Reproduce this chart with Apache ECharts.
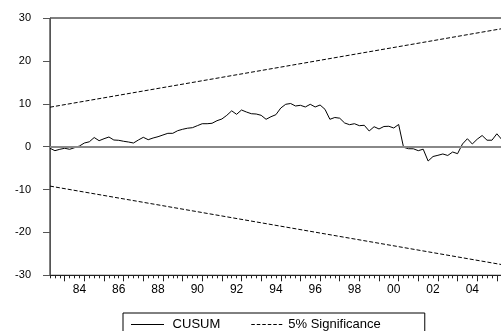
<!DOCTYPE html>
<html>
<head>
<meta charset="utf-8">
<script src="https://cdn.jsdelivr.net/npm/echarts@6/dist/echarts.min.js"></script>
<style>
  html, body { margin: 0; padding: 0; background: #fff; overflow: hidden; }
  #chart { width: 530px; height: 331px; }
</style>
</head>
<body>
<div id="chart"></div>
<script>
// quarterly observations, 1982Q3 onwards
const startYear = 1982;
const startQuarter = 3;
const quarterCount = 96;

const cusum = [
  -0.38, -0.94, -0.62, -0.38, -0.62, -0.24, 0.15, 0.85, 1.13, 2.13,
  1.39, 1.85, 2.25, 1.55, 1.48, 1.25, 1.08, 0.85, 1.55, 2.18,
  1.62, 2.02, 2.32, 2.72, 3.11, 3.11, 3.72, 4.05, 4.3, 4.42,
  4.89, 5.35, 5.35, 5.45, 6.05, 6.45, 7.3, 8.35, 7.54, 8.55,
  8.08, 7.68, 7.61, 7.31, 6.38, 6.98, 7.45, 9.01, 9.88, 10.06,
  9.48, 9.64, 9.25, 9.88, 9.25, 9.71, 8.71, 6.38, 6.8, 6.63,
  5.52, 5.12, 5.35, 4.89, 4.98, 3.65, 4.65, 4.12, 4.7, 4.75,
  4.35, 5.17, -0.15, -0.48, -0.5, -0.94, -0.59, -3.35, -2.3, -2.02,
  -1.71, -2.06, -1.25, -1.64, 0.62, 1.85, 0.62, 1.74, 2.6, 1.5,
  1.5, 3.0, 1.67
];

// 5% bounds: value at first and last observation
const upperBound = [9.2, 28.1];
const lowerBound = [-9.2, -28.1];

const yTicks = { min: -30, max: 30, step: 10 };

const quarters = [];
for (let i = 0; i < quarterCount; i++) {
  const q = startQuarter - 1 + i;
  quarters.push((startYear + Math.floor(q / 4)) + 'Q' + (q % 4 + 1));
}

const first = quarters[0];
const last = quarters[quarters.length - 1];

const chart = echarts.init(document.getElementById('chart'));
const font = 'Liberation Sans, Arial, Helvetica, sans-serif';

const plotBox = { left: 50, right: 13.5, top: 18, bottom: 55.7 };

const solidIcon = 'path://M0,0H33V1H0Z';
const dashIcon = 'path://M0,0H3.5V1H0ZM5.5,0H9V1H5.5ZM11,0H14.5V1H11ZM16.5,0H20V1H16.5ZM22,0H25.5V1H22ZM27.5,0H31V1H27.5Z';

chart.setOption({
  animation: false,
  backgroundColor: '#fff',
  grid: [
    Object.assign({ show: true, borderColor: '#000', borderWidth: 1, backgroundColor: 'transparent' }, plotBox),
    Object.assign({ show: false }, plotBox),
  ],
  legend: {
    data: [
      { name: 'CUSUM', icon: solidIcon },
      { name: '5% Significance', icon: dashIcon },
    ],
    left: 123,
    top: 313,
    padding: [5, 44, 20, 8],
    itemWidth: 33,
    itemHeight: 1,
    itemGap: 31,
    borderColor: '#000',
    borderWidth: 1,
    itemStyle: { color: '#000', borderWidth: 0 },
    formatter: (name) => (name === 'CUSUM' ? ' ' + name : name),
    textStyle: { fontFamily: font, fontSize: 13, color: '#000' },
  },
  xAxis: [
    {
      gridIndex: 0,
      type: 'category',
      data: quarters,
      boundaryGap: false,
      position: 'bottom',
      axisLine: { onZero: false, lineStyle: { color: '#222', width: 1 } },
      axisTick: { show: true, interval: 0, length: 3, lineStyle: { color: '#222' } },
      axisLabel: {
        interval: (idx, val) => val.endsWith('Q1') && Number(val.slice(0, 4)) % 2 === 0,
        formatter: (val) => val.slice(2, 4),
        margin: 8,
        fontFamily: font,
        fontSize: 12,
        color: '#000',
      },
      splitLine: { show: false },
    },
    {
      gridIndex: 1,
      type: 'category',
      data: quarters,
      boundaryGap: false,
      position: 'bottom',
      axisLine: { show: false, onZero: false },
      axisTick: {
        show: true,
        interval: (idx, val) => val.endsWith('Q2'),
        length: 6,
        lineStyle: { color: '#222' },
      },
      axisLabel: { show: false },
      splitLine: { show: false },
    },
  ],
  yAxis: [
    {
      gridIndex: 0,
      type: 'value',
      min: yTicks.min,
      max: yTicks.max,
      interval: yTicks.step,
      axisLine: { show: true, onZero: false, lineStyle: { color: '#555', width: 1 } },
      axisTick: { show: true, length: 7, lineStyle: { color: '#555' } },
      axisLabel: { margin: 19, fontFamily: font, fontSize: 11, color: '#000' },
      splitLine: { show: false },
    },
    {
      gridIndex: 1,
      type: 'value',
      min: yTicks.min,
      max: yTicks.max,
      interval: yTicks.step,
      show: false,
    },
  ],
  series: [
    {
      name: 'zero',
      type: 'line',
      data: [],
      z: 1,
      markLine: {
        silent: true,
        symbol: 'none',
        label: { show: false },
        lineStyle: { color: '#888', width: 2, type: 'solid' },
        data: [{ yAxis: 0 }],
      },
    },
    {
      name: '5% Significance',
      type: 'line',
      data: [[first, upperBound[0]], [last, upperBound[1]]],
      symbol: 'none',
      z: 2,
      itemStyle: { color: '#000' },
      lineStyle: { color: '#000', width: 1, type: [4, 2] },
    },
    {
      name: '5% Significance',
      type: 'line',
      data: [[first, lowerBound[0]], [last, lowerBound[1]]],
      symbol: 'none',
      z: 2,
      itemStyle: { color: '#000' },
      lineStyle: { color: '#000', width: 1, type: [4, 2] },
    },
    {
      name: 'CUSUM',
      type: 'line',
      data: cusum,
      symbol: 'none',
      z: 3,
      itemStyle: { color: '#000' },
      lineStyle: { color: '#000', width: 1 },
    },
  ],
});
</script>
</body>
</html>
